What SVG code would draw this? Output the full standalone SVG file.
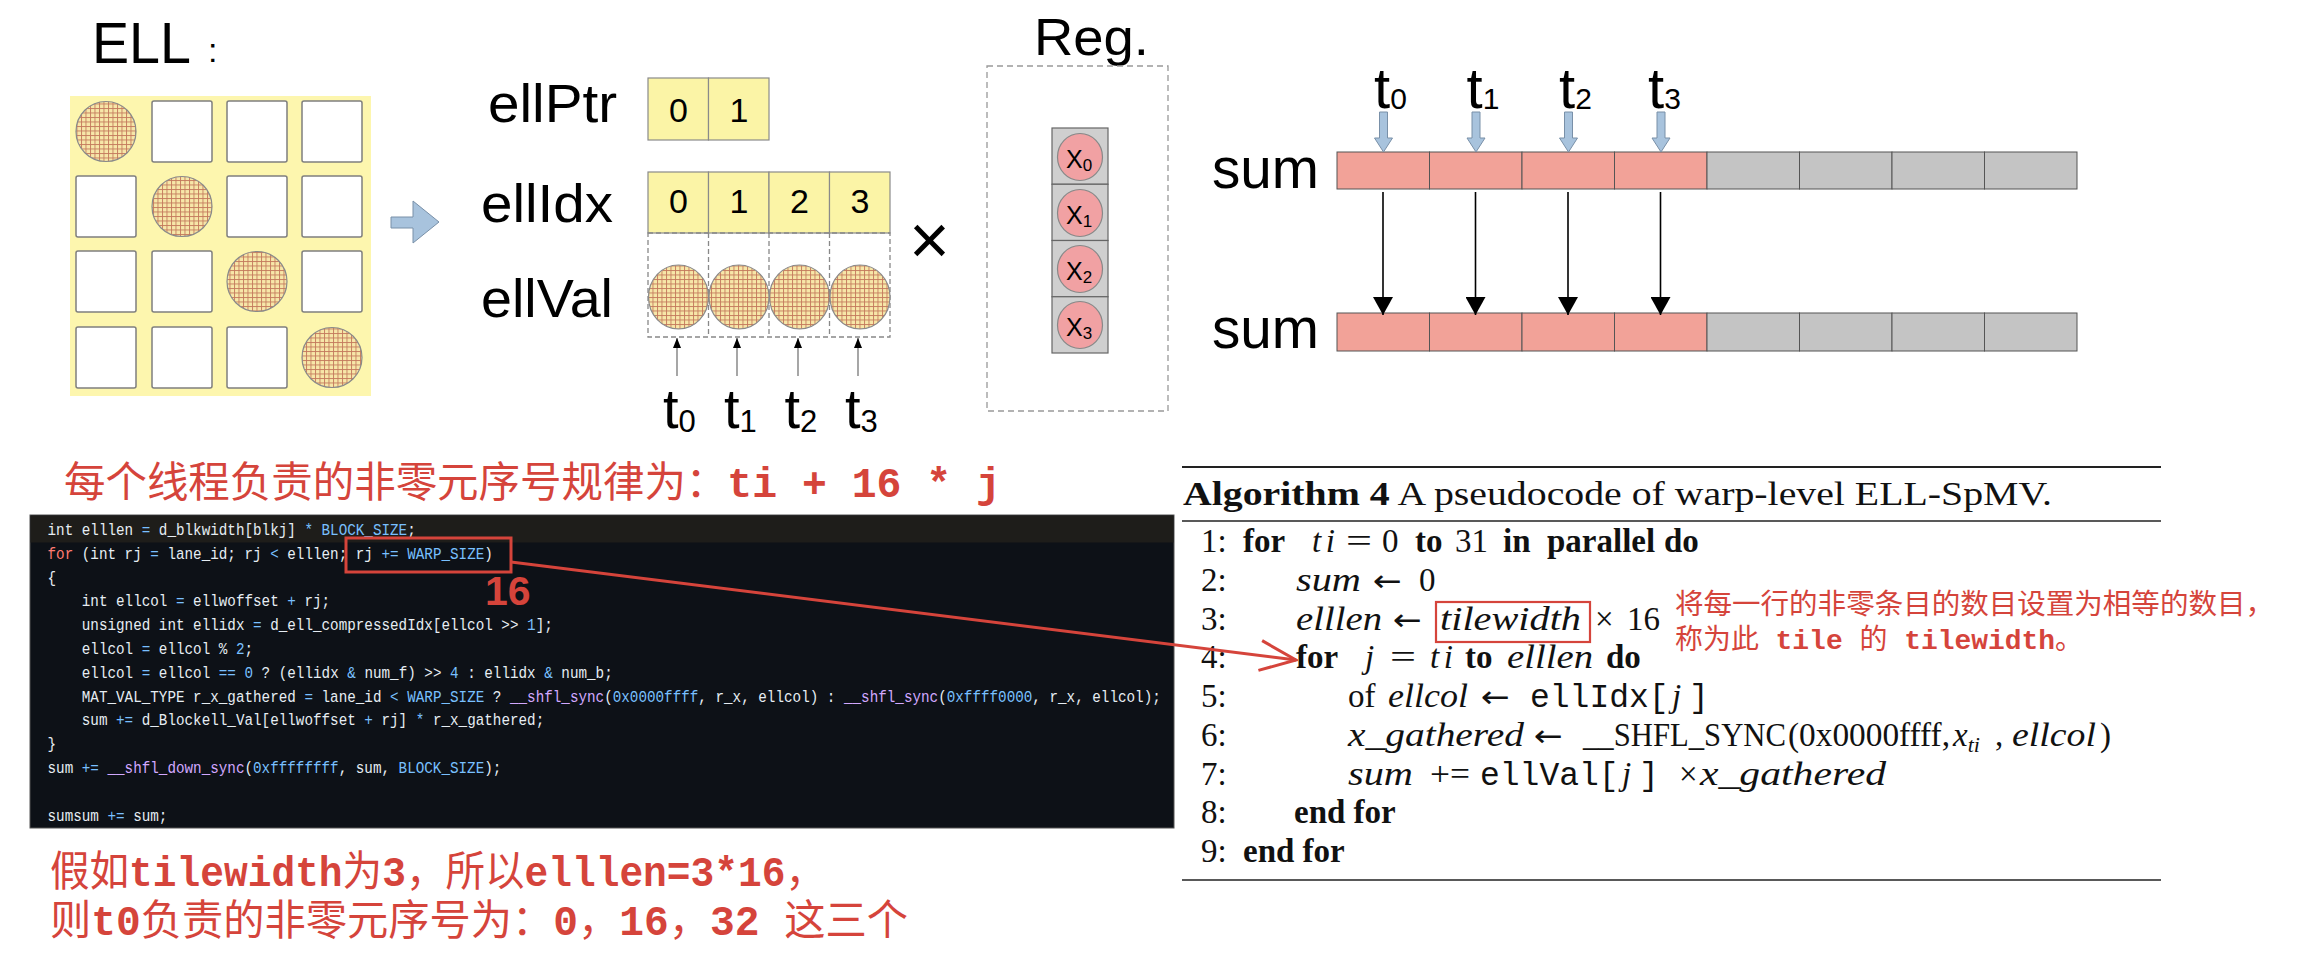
<svg xmlns="http://www.w3.org/2000/svg" width="2300" height="962" viewBox="0 0 2300 962">
<defs>
<style>
.sans{font-family:"Liberation Sans",Arial,sans-serif;fill:#000}
.serif{font-family:"Liberation Serif","Times New Roman",serif;fill:#111;font-size:33px}
.arr{font-family:"DejaVu Sans","Liberation Serif",serif;fill:#111;font-size:30px}
.it{font-style:italic}
.bd{font-weight:bold}
.tt{font-family:"Liberation Mono","Courier New",monospace;font-size:33px;fill:#111}
.cn{font-family:"Liberation Mono","Noto Sans CJK SC",monospace;fill:#D5443B}
.code{font-family:"Liberation Mono",monospace;font-size:17px;fill:#E6EDF3}
.b{fill:#79C0FF}.k{fill:#FF7B72}.f{fill:#D2A8FF}
.cell{fill:#fff;stroke:#7f7f7f;stroke-width:1.5}
.ycell{fill:#FBF4A6;stroke:#8a8a8a;stroke-width:1.2}
.hatch{fill:url(#hp);stroke:#8a8a8a;stroke-width:1.2}
.pk{fill:#F2A298;stroke:#555;stroke-width:1}
.gy{fill:#C4C4C4;stroke:#555;stroke-width:1}
.barrow{fill:#A8C3DD;stroke:#7990A8;stroke-width:1}
.dash{fill:none;stroke:#888;stroke-width:1.3;stroke-dasharray:5 3}
.red{fill:none;stroke:#D5443B;stroke-width:3}
</style>
<pattern id="hp" width="4.5" height="4.5" patternUnits="userSpaceOnUse">
<rect width="4.5" height="4.5" fill="#F7E7A8"/>
<path d="M0 0.5H4.5M0.5 0V4.5" stroke="#C47A5C" stroke-width="0.9"/>
</pattern>
<marker id="ahs" markerUnits="userSpaceOnUse" markerWidth="10" markerHeight="8" viewBox="0 0 10 8" refX="10" refY="4" orient="auto">
<path d="M0 0L10 4L0 8z" fill="#000"/>
</marker>
<marker id="ahb" markerUnits="userSpaceOnUse" markerWidth="18" markerHeight="20" viewBox="0 0 18 20" refX="18" refY="10" orient="auto">
<path d="M0 0L18 10L0 20z" fill="#000"/>
</marker>
<marker id="ahr" markerUnits="userSpaceOnUse" markerWidth="40" markerHeight="34" viewBox="0 0 40 34" refX="38" refY="17" orient="auto">
<path d="M2 2L38 17L2 32" fill="none" stroke="#D5443B" stroke-width="3"/>
</marker>
</defs>
<rect width="2300" height="962" fill="#fff"/>

<g id="ell-matrix">
<text class="sans" x="92" y="63" font-size="58" textLength="99" lengthAdjust="spacingAndGlyphs">ELL</text>
<text class="sans" x="208" y="62" font-size="34">:</text>
<rect x="70" y="96" width="301" height="300" fill="#FDF6AE"/>
<circle class="hatch" cx="106" cy="131.5" r="30"/>
<rect class="cell" x="152" y="101" width="60" height="61" rx="2"/>
<rect class="cell" x="227" y="101" width="60" height="61" rx="2"/>
<rect class="cell" x="302" y="101" width="60" height="61" rx="2"/>
<rect class="cell" x="76" y="176" width="60" height="61" rx="2"/>
<circle class="hatch" cx="182" cy="206.5" r="30"/>
<rect class="cell" x="227" y="176" width="60" height="61" rx="2"/>
<rect class="cell" x="302" y="176" width="60" height="61" rx="2"/>
<rect class="cell" x="76" y="251" width="60" height="61" rx="2"/>
<rect class="cell" x="152" y="251" width="60" height="61" rx="2"/>
<circle class="hatch" cx="257" cy="281.5" r="30"/>
<rect class="cell" x="302" y="251" width="60" height="61" rx="2"/>
<rect class="cell" x="76" y="327" width="60" height="61" rx="2"/>
<rect class="cell" x="152" y="327" width="60" height="61" rx="2"/>
<rect class="cell" x="227" y="327" width="60" height="61" rx="2"/>
<circle class="hatch" cx="332" cy="357.5" r="30"/>
</g>

<g id="convert-arrow">
<polygon class="barrow" points="391,217 413,217 413,201 439,222 413,243 413,228 391,228"/>
</g>

<g id="ellptr">
<text class="sans" x="488" y="122" font-size="54" textLength="129" lengthAdjust="spacingAndGlyphs">ellPtr</text>
<rect class="ycell" x="648" y="78" width="60.5" height="62"/>
<rect class="ycell" x="708.5" y="78" width="60.5" height="62"/>
<text class="sans" x="678.5" y="122" font-size="34" text-anchor="middle">0</text>
<text class="sans" x="739" y="122" font-size="34" text-anchor="middle">1</text>
</g>

<g id="ellidx">
<text class="sans" x="481" y="222" font-size="54" textLength="132" lengthAdjust="spacingAndGlyphs">ellIdx</text>
<rect class="ycell" x="648" y="172" width="60.5" height="61"/>
<rect class="ycell" x="708.5" y="172" width="60.5" height="61"/>
<rect class="ycell" x="769" y="172" width="60.5" height="61"/>
<rect class="ycell" x="829.5" y="172" width="60.5" height="61"/>
<text class="sans" x="678.5" y="213" font-size="34" text-anchor="middle">0</text>
<text class="sans" x="739" y="213" font-size="34" text-anchor="middle">1</text>
<text class="sans" x="799.5" y="213" font-size="34" text-anchor="middle">2</text>
<text class="sans" x="860" y="213" font-size="34" text-anchor="middle">3</text>
</g>

<g id="ellval">
<text class="sans" x="481" y="317" font-size="54" textLength="132" lengthAdjust="spacingAndGlyphs">ellVal</text>
<rect class="dash" x="648" y="233" width="242" height="104"/>
<path class="dash" d="M708.5 233V337M769 233V337M829.5 233V337"/>
<ellipse class="hatch" cx="678.5" cy="297" rx="30" ry="32"/>
<ellipse class="hatch" cx="739" cy="297" rx="30" ry="32"/>
<ellipse class="hatch" cx="799.5" cy="297" rx="30" ry="32"/>
<ellipse class="hatch" cx="860" cy="297" rx="30" ry="32"/>
</g>

<g id="thread-labels-bottom">
<text class="sans" x="663" y="428" font-size="56">t<tspan font-size="31" dy="4">0</tspan></text>
<text class="sans" x="724" y="428" font-size="56">t<tspan font-size="31" dy="4">1</tspan></text>
<text class="sans" x="784.5" y="428" font-size="56">t<tspan font-size="31" dy="4">2</tspan></text>
<text class="sans" x="845" y="428" font-size="56">t<tspan font-size="31" dy="4">3</tspan></text>
</g>

<g id="times">
<text class="sans" x="909" y="264" font-size="70">×</text>
</g>

<g id="register">
<text class="sans" x="1034" y="55" font-size="52" textLength="115" lengthAdjust="spacingAndGlyphs">Reg.</text>
<rect x="987" y="66" width="181" height="345" fill="none" stroke="#999" stroke-width="1.3" stroke-dasharray="6 4"/>
<rect x="1052" y="128" width="56" height="56.25" fill="#CFCFCF" stroke="#666" stroke-width="1.2"/>
<rect x="1052" y="184.25" width="56" height="56.25" fill="#CFCFCF" stroke="#666" stroke-width="1.2"/>
<rect x="1052" y="240.5" width="56" height="56.25" fill="#CFCFCF" stroke="#666" stroke-width="1.2"/>
<rect x="1052" y="296.75" width="56" height="56.25" fill="#CFCFCF" stroke="#666" stroke-width="1.2"/>
<ellipse cx="1080" cy="157" rx="22.5" ry="23.5" fill="#F1A1A3" stroke="#888" stroke-width="1.2"/>
<ellipse cx="1080" cy="213" rx="22.5" ry="23.5" fill="#F1A1A3" stroke="#888" stroke-width="1.2"/>
<ellipse cx="1080" cy="269" rx="22.5" ry="23.5" fill="#F1A1A3" stroke="#888" stroke-width="1.2"/>
<ellipse cx="1080" cy="325" rx="22.5" ry="23.5" fill="#F1A1A3" stroke="#888" stroke-width="1.2"/>
<text class="sans" x="1066" y="168" font-size="25">X<tspan font-size="17" dy="3">0</tspan></text>
<text class="sans" x="1066" y="224" font-size="25">X<tspan font-size="17" dy="3">1</tspan></text>
<text class="sans" x="1066" y="280" font-size="25">X<tspan font-size="17" dy="3">2</tspan></text>
<text class="sans" x="1066" y="336" font-size="25">X<tspan font-size="17" dy="3">3</tspan></text>
</g>

<g id="sum-top">
<text class="sans" x="1212" y="188" font-size="58" textLength="107" lengthAdjust="spacingAndGlyphs">sum</text>
<rect class="pk" x="1337" y="152" width="92.5" height="37"/>
<rect class="pk" x="1429.5" y="152" width="92.5" height="37"/>
<rect class="pk" x="1522" y="152" width="92.5" height="37"/>
<rect class="pk" x="1614.5" y="152" width="92.5" height="37"/>
<rect class="gy" x="1707" y="152" width="92.5" height="37"/>
<rect class="gy" x="1799.5" y="152" width="92.5" height="37"/>
<rect class="gy" x="1892" y="152" width="92.5" height="37"/>
<rect class="gy" x="1984.5" y="152" width="92.5" height="37"/>
<text class="sans" x="1374" y="108" font-size="58">t<tspan font-size="30" dy="1">0</tspan></text>
<text class="sans" x="1466.5" y="108" font-size="58">t<tspan font-size="30" dy="1">1</tspan></text>
<text class="sans" x="1559" y="108" font-size="58">t<tspan font-size="30" dy="1">2</tspan></text>
<text class="sans" x="1648" y="108" font-size="58">t<tspan font-size="30" dy="1">3</tspan></text>
<polygon class="barrow" points="1379.5,112 1387.5,112 1387.5,138 1392.5,138 1383.5,152 1374.5,138 1379.5,138"/>
<polygon class="barrow" points="1472,112 1480,112 1480,138 1485,138 1476,152 1467,138 1472,138"/>
<polygon class="barrow" points="1564.5,112 1572.5,112 1572.5,138 1577.5,138 1568.5,152 1559.5,138 1564.5,138"/>
<polygon class="barrow" points="1657,112 1665,112 1665,138 1670,138 1661,152 1652,138 1657,138"/>
</g>

<g id="sum-bottom">
<text class="sans" x="1212" y="348" font-size="58" textLength="107" lengthAdjust="spacingAndGlyphs">sum</text>
<rect class="pk" x="1337" y="313" width="92.5" height="38"/>
<rect class="pk" x="1429.5" y="313" width="92.5" height="38"/>
<rect class="pk" x="1522" y="313" width="92.5" height="38"/>
<rect class="pk" x="1614.5" y="313" width="92.5" height="38"/>
<rect class="gy" x="1707" y="313" width="92.5" height="38"/>
<rect class="gy" x="1799.5" y="313" width="92.5" height="38"/>
<rect class="gy" x="1892" y="313" width="92.5" height="38"/>
<rect class="gy" x="1984.5" y="313" width="92.5" height="38"/>
</g>

<g id="title-note">
<text class="cn" x="64" y="497" font-size="42" textLength="937" lengthAdjust="spacingAndGlyphs">每个线程负责的非零元序号规律为：<tspan class="bd">ti + 16 * j</tspan></text>
</g>

<g id="code-panel">
<rect x="30" y="515" width="1144" height="313" fill="#0D1117" stroke="#555" stroke-width="1"/>
<rect x="30.5" y="515.5" width="1143" height="27" fill="#1E1D1A"/>
<g transform="translate(47.5,0) scale(0.84,1)">
<text class="code" x="0" y="535">int elllen <tspan class="b">=</tspan> d_blkwidth[blkj] <tspan class="b">*</tspan> <tspan class="b">BLOCK_SIZE</tspan>;</text>
<text class="code" x="0" y="558.8"><tspan class="k">for</tspan> (int rj <tspan class="b">=</tspan> lane_id; rj <tspan class="b">&lt;</tspan> elllen; rj <tspan class="b">+=</tspan> <tspan class="b">WARP_SIZE</tspan>)</text>
<text class="code" x="0" y="582.6">{</text>
<text class="code" x="40.8" y="606.4">int ellcol <tspan class="b">=</tspan> ellwoffset <tspan class="b">+</tspan> rj;</text>
<text class="code" x="40.8" y="630.2">unsigned int ellidx <tspan class="b">=</tspan> d_ell_compressedIdx[ellcol &gt;&gt; <tspan class="b">1</tspan>];</text>
<text class="code" x="40.8" y="654">ellcol <tspan class="b">=</tspan> ellcol % <tspan class="b">2</tspan>;</text>
<text class="code" x="40.8" y="677.8">ellcol <tspan class="b">=</tspan> ellcol <tspan class="b">==</tspan> <tspan class="b">0</tspan> ? (ellidx <tspan class="b">&amp;</tspan> num_f) &gt;&gt; <tspan class="b">4</tspan> : ellidx <tspan class="b">&amp;</tspan> num_b;</text>
<text class="code" x="40.8" y="701.6">MAT_VAL_TYPE r_x_gathered <tspan class="b">=</tspan> lane_id <tspan class="b">&lt;</tspan> <tspan class="b">WARP_SIZE</tspan> ? <tspan class="f">__shfl_sync</tspan>(<tspan class="b">0x0000ffff</tspan>, r_x, ellcol) : <tspan class="f">__shfl_sync</tspan>(<tspan class="b">0xffff0000</tspan>, r_x, ellcol);</text>
<text class="code" x="40.8" y="725.4">sum <tspan class="b">+=</tspan> d_Blockell_Val[ellwoffset <tspan class="b">+</tspan> rj] <tspan class="b">*</tspan> r_x_gathered;</text>
<text class="code" x="0" y="749.2">}</text>
<text class="code" x="0" y="773">sum <tspan class="b">+=</tspan> <tspan class="f">__shfl_down_sync</tspan>(<tspan class="b">0xffffffff</tspan>, sum, <tspan class="b">BLOCK_SIZE</tspan>);</text>
<text class="code" x="0" y="820.6">sumsum <tspan class="b">+=</tspan> sum;</text>
</g>
<rect class="red" x="346" y="538" width="165" height="34"/>
<text x="485" y="605" font-family="Liberation Sans,Arial,sans-serif" font-weight="bold" font-size="41" fill="#D5443B">16</text>
</g>

<g id="example-note">
<text class="cn" x="50" y="886" font-size="42" textLength="775" lengthAdjust="spacingAndGlyphs">假如<tspan class="bd">tilewidth</tspan>为<tspan class="bd">3</tspan>，所以<tspan class="bd">elllen=3*16</tspan>，</text>
<text class="cn" x="50" y="935" font-size="42" textLength="858" lengthAdjust="spacingAndGlyphs">则<tspan class="bd">t0</tspan>负责的非零元序号为：<tspan class="bd">0</tspan>，<tspan class="bd">16</tspan>，<tspan class="bd">32 </tspan>这三个</text>
</g>

<g id="algorithm">
<line x1="1182" y1="467" x2="2161" y2="467" stroke="#222" stroke-width="2.2"/>
<text class="serif" x="1183" y="505" font-size="46" textLength="869" lengthAdjust="spacingAndGlyphs"><tspan class="bd">Algorithm 4</tspan> A pseudocode of warp-level ELL-SpMV.</text>
<line x1="1182" y1="521" x2="2161" y2="521" stroke="#222" stroke-width="1.3"/>
<line x1="1182" y1="880" x2="2161" y2="880" stroke="#222" stroke-width="1.6"/>
<text class="serif" x="1201" y="552">1:</text>
<text class="serif" x="1201" y="591">2:</text>
<text class="serif" x="1201" y="630">3:</text>
<text class="serif" x="1201" y="668">4:</text>
<text class="serif" x="1201" y="707">5:</text>
<text class="serif" x="1201" y="746">6:</text>
<text class="serif" x="1201" y="785">7:</text>
<text class="serif" x="1201" y="823">8:</text>
<text class="serif" x="1201" y="862">9:</text>
<text class="serif bd" x="1243" y="552">for</text>
<text class="serif it" x="1312" y="552" textLength="23">ti</text>
<text class="serif" x="1346" y="552" textLength="26" lengthAdjust="spacingAndGlyphs">=</text>
<text class="serif" x="1382" y="552">0</text>
<text class="serif bd" x="1415" y="552">to</text>
<text class="serif" x="1455" y="552">31</text>
<text class="serif bd" x="1503" y="552">in</text>
<text class="serif bd" x="1547" y="552">parallel</text>
<text class="serif bd" x="1664" y="552">do</text>
<text class="serif it" x="1296" y="591" textLength="65" lengthAdjust="spacingAndGlyphs">sum</text>
<text class="arr" x="1373" y="591" textLength="29" lengthAdjust="spacingAndGlyphs">←</text>
<text class="serif" x="1419" y="591">0</text>
<text class="serif it" x="1296" y="630" textLength="86" lengthAdjust="spacingAndGlyphs">elllen</text>
<text class="arr" x="1393" y="630" textLength="29" lengthAdjust="spacingAndGlyphs">←</text>
<rect x="1436" y="602" width="154" height="40" fill="none" stroke="#D5443B" stroke-width="2.2"/>
<text class="serif it" x="1440" y="630" textLength="141" lengthAdjust="spacingAndGlyphs">tilewidth</text>
<text class="serif" x="1595" y="630">×</text>
<text class="serif" x="1627" y="630">16</text>
<text class="serif bd" x="1296" y="668">for</text>
<text class="serif it" x="1365" y="668">j</text>
<text class="serif" x="1390" y="668" textLength="26" lengthAdjust="spacingAndGlyphs">=</text>
<text class="serif it" x="1430" y="668" textLength="23">ti</text>
<text class="serif bd" x="1465" y="668">to</text>
<text class="serif it" x="1507" y="668" textLength="86" lengthAdjust="spacingAndGlyphs">elllen</text>
<text class="serif bd" x="1606" y="668">do</text>
<text class="serif" x="1348" y="707">of</text>
<text class="serif it" x="1388" y="707" textLength="80" lengthAdjust="spacingAndGlyphs">ellcol</text>
<text class="arr" x="1481" y="707" textLength="29" lengthAdjust="spacingAndGlyphs">←</text>
<text class="tt" x="1530" y="707">ellIdx[</text>
<text class="serif it" x="1672" y="707">j</text>
<text class="tt" x="1689" y="707">]</text>
<text class="serif it" x="1348" y="746" textLength="176" lengthAdjust="spacingAndGlyphs">x_gathered</text>
<text class="arr" x="1534" y="746" textLength="29" lengthAdjust="spacingAndGlyphs">←</text>
<text class="serif" x="1583" y="746" font-size="27" textLength="203" lengthAdjust="spacingAndGlyphs">__SHFL_SYNC</text>
<text class="serif" x="1788" y="746" textLength="162" lengthAdjust="spacingAndGlyphs">(0x0000ffff,</text>
<text class="serif it" x="1953" y="746">x<tspan font-size="22" dy="6">ti</tspan></text>
<text class="serif" x="1995" y="746">,</text>
<text class="serif it" x="2012" y="746" textLength="84" lengthAdjust="spacingAndGlyphs">ellcol</text>
<text class="serif" x="2100" y="746">)</text>
<text class="serif it" x="1348" y="785" textLength="65" lengthAdjust="spacingAndGlyphs">sum</text>
<text class="serif" x="1430" y="785" textLength="40" lengthAdjust="spacingAndGlyphs">+=</text>
<text class="tt" x="1480" y="785">ellVal[</text>
<text class="serif it" x="1622" y="785">j</text>
<text class="tt" x="1639" y="785">]</text>
<text class="serif" x="1679" y="785">×</text>
<text class="serif it" x="1700" y="785" textLength="186" lengthAdjust="spacingAndGlyphs">x_gathered</text>
<text class="serif bd" x="1294" y="823">end for</text>
<text class="serif bd" x="1243" y="862">end for</text>
</g>

<g id="tilewidth-note">
<text class="cn" x="1675" y="614" font-size="28.5" textLength="599" lengthAdjust="spacingAndGlyphs">将每一行的非零条目的数目设置为相等的数目，</text>
<text class="cn" x="1675" y="649" font-size="28.5" textLength="408" lengthAdjust="spacingAndGlyphs">称为此 <tspan class="bd">tile</tspan> 的 <tspan class="bd">tilewidth</tspan>。</text>
</g>

<g id="connectors">
<g stroke="#777" stroke-width="1.3" marker-end="url(#ahs)">
<line x1="677" y1="376" x2="677" y2="338"/>
<line x1="737" y1="376" x2="737" y2="338"/>
<line x1="798" y1="376" x2="798" y2="338"/>
<line x1="858" y1="376" x2="858" y2="338"/>
</g>
<g stroke="#000" stroke-width="1.6" marker-end="url(#ahb)">
<line x1="1383" y1="192" x2="1383" y2="315"/>
<line x1="1475.5" y1="192" x2="1475.5" y2="315"/>
<line x1="1568" y1="192" x2="1568" y2="315"/>
<line x1="1660.5" y1="192" x2="1660.5" y2="315"/>
</g>
<line x1="511" y1="562" x2="1296" y2="660" stroke="#D5443B" stroke-width="3" marker-end="url(#ahr)"/>
</g>
</svg>
